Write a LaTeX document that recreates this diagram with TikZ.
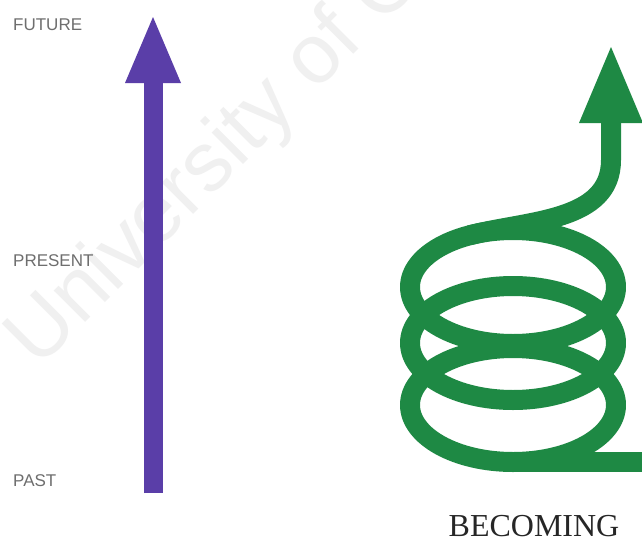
\documentclass[tikz,border=0pt]{standalone}
\usepackage{fontspec}
\setmainfont{Liberation Serif}
\newfontfamily\labelfont{Liberation Sans}
\newfontfamily\wmfont{Liberation Sans}
\definecolor{timepurple}{RGB}{90,62,168}
\definecolor{coilgreen}{RGB}{30,137,68}
\definecolor{labelgray}{RGB}{110,110,110}
\definecolor{wmgray}{RGB}{240,240,240}
\tikzset{
  timeline/.style={draw=timepurple, line width=19pt, line cap=butt},
  timehead/.style={fill=timepurple, draw=none},
  coil/.style={draw=coilgreen, line width=20pt, line cap=butt, line join=round},
  coilhead/.style={fill=coilgreen, draw=none},
  timelabel/.style={anchor=west, inner sep=0pt, text=labelgray, font=\labelfont\fontsize{17}{17}\selectfont},
  caption/.style={inner sep=0pt, text=black!85, font=\fontsize{32}{32}\selectfont},
  watermark/.style={anchor=base west, inner sep=0pt, rotate=45, text=wmgray, font=\wmfont\fontsize{84}{84}\selectfont}
}
\begin{document}
\begin{tikzpicture}[x=1pt,y=-1pt]
\useasboundingbox (0,0) rectangle (642,549);
\clip (0,0) rectangle (642,549);
\fill[white] (0,0) rectangle (642,549);
% watermark
\node[watermark] (wm) at (38,370) {University of Cape Town};
% left: linear time
\coordinate (past) at (153,493);
\coordinate (pbase) at (153,83);
\coordinate (ptip) at (153,17);
\draw[timeline] (past) -- (pbase);
\fill[timehead] ([xshift=-28pt]pbase) -- ([xshift=28pt]pbase) -- (ptip) -- cycle;
\node[timelabel] (future) at (13,25) {FUTURE};
\node[timelabel] (present) at (13,261) {PRESENT};
\node[timelabel] (pastlbl) at (13,481) {PAST};
% right: becoming
\coordinate (c1) at (513,287);
\coordinate (c2) at (513,343);
\coordinate (c3) at (513,405);
\draw[coil] (c3) ellipse [x radius=103pt, y radius=57pt];
\draw[coil] (c2) ellipse [x radius=103pt, y radius=57pt];
\draw[coil] (c1) ellipse [x radius=103pt, y radius=57pt];
\coordinate (tailstart) at (513,462);
\coordinate (tailend) at (652,462);
\draw[coil] (tailstart) -- (tailend);
\coordinate (exitstart) at (469.5,235.3);
\coordinate (gbase) at (611,123);
\coordinate (gtip) at (611,47);
\draw[coil] (exitstart) .. controls (527.6,220.3) and (611,222) .. (611,160) -- (gbase);
\fill[coilhead] ([xshift=-32pt]gbase) -- ([xshift=32pt]gbase) -- (gtip) -- cycle;
\node[caption] (becoming) at (534,526) {BECOMING};
\end{tikzpicture}
\end{document}
